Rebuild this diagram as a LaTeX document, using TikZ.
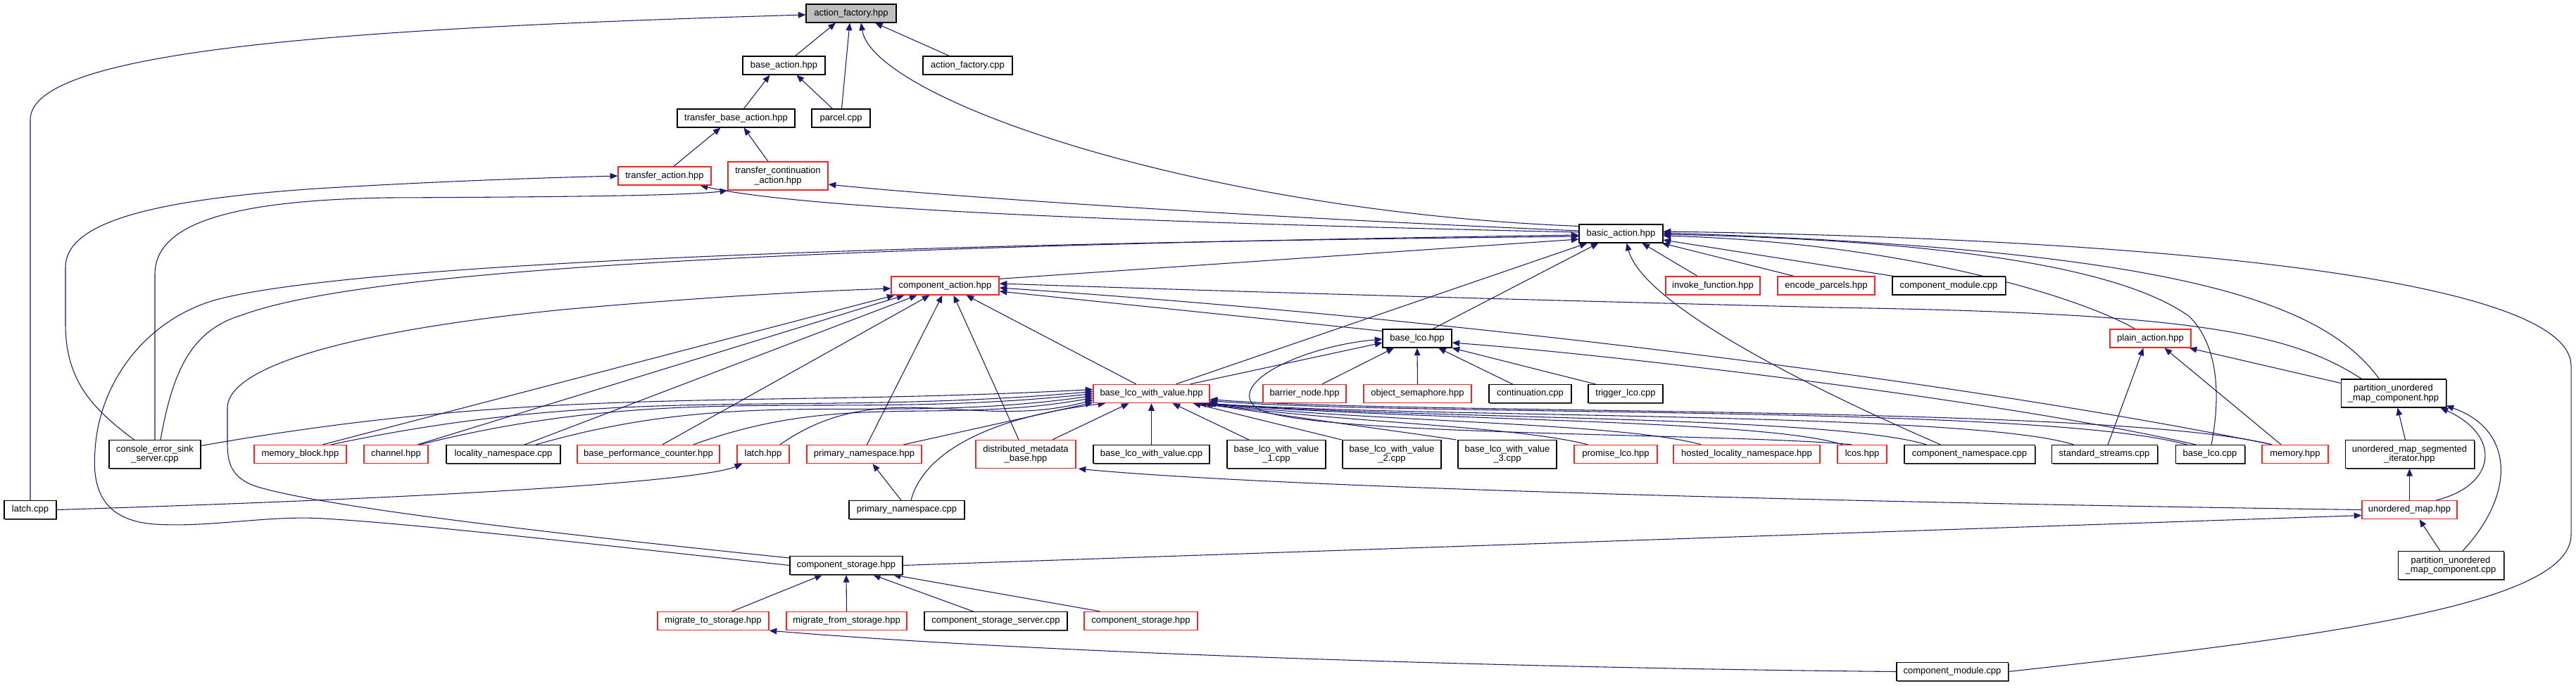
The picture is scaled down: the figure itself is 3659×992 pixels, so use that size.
\documentclass[tikz,border=0pt]{standalone}
\usepackage{fontspec}
\setmainfont{Liberation Sans}
\usetikzlibrary{arrows.meta,calc,shadows}
\pgfdeclarelayer{bg}
\pgfsetlayers{bg,main}
\definecolor{eblue}{HTML}{191970}
\definecolor{rbord}{HTML}{FF2020}
\definecolor{rootgray}{HTML}{BFBFBF}
\definecolor{shgray}{HTML}{505050}
\newcommand\nodefnt{\fontsize{9.75}{10}\selectfont}
\begin{document}
\begin{tikzpicture}[x=0.75pt,y=-0.75pt,
  base/.style={line width=0.8pt, fill=white, inner sep=0pt, minimum height=19.5pt, font=\nodefnt, align=center},
  bx/.style={base, draw=black, drop shadow={shadow xshift=1.1pt, shadow yshift=-1.1pt, fill=shgray, opacity=1}},
  rbx/.style={base, draw=rbord, line width=1pt},
  two/.style={minimum height=30pt},
  wd/.style={minimum width=#1*0.75pt},
  lnk/.style={draw=eblue, line width=0.8pt, -{Triangle[length=8pt,width=6.5pt]}},
]
\useasboundingbox (0,0) rectangle (3659,992);

% ---------- nodes ----------
\node[bx, fill=rootgray, wd=128] (af) at (1209,19) {action\_factory.hpp};
\node[bx, wd=117] (ba) at (1113.5,93) {base\_action.hpp};
\node[bx, wd=127] (afc) at (1374.5,93) {action\_factory.cpp};
\node[bx, wd=167] (tba) at (1045.5,168) {transfer\_base\_action.hpp};
\node[bx, wd=83] (pc) at (1194.5,168) {parcel.cpp};
\node[rbx, wd=132] (ta) at (944,250) {transfer\_action.hpp};
\node[rbx, two, wd=142] (tca) at (1105,250) {transfer\_continuation\\\_action.hpp};
\node[bx, wd=119] (bca) at (2302.5,332) {basic\_action.hpp};
\node[rbx, wd=153] (ca) at (1342.5,406) {component\_action.hpp};
\node[rbx, wd=134] (ifn) at (2433,406) {invoke\_function.hpp};
\node[rbx, wd=138] (ep) at (2594,406) {encode\_parcels.hpp};
\node[bx, wd=160] (cm1) at (2768,406) {component\_module.cpp};
\node[bx, wd=98] (bl) at (2013,481) {base\_lco.hpp};
\node[rbx, wd=115] (pa) at (3054.5,481) {plain\_action.hpp};
\node[rbx, wd=165] (blv) at (1635.5,559.5) {base\_lco\_with\_value.hpp};
\node[rbx, wd=118] (bn) at (1853,559.5) {barrier\_node.hpp};
\node[rbx, wd=153] (os) at (2013.5,559.5) {object\_semaphore.hpp};
\node[bx, wd=117] (cont) at (2173.5,559.5) {continuation.cpp};
\node[bx, wd=106] (tl) at (2309,559.5) {trigger\_lco.cpp};
\node[bx, two, wd=149] (pumc) at (3399.5,559) {partition\_unordered\\\_map\_component.hpp};
\node[bx, two, wd=130] (cess) at (220,645.5) {console\_error\_sink\\\_server.cpp};
\node[rbx, wd=131] (mb) at (426.5,645.5) {memory\_block.hpp};
\node[rbx, wd=91] (ch) at (562.5,645.5) {channel.hpp};
\node[bx, wd=162] (ln) at (715,645.5) {locality\_namespace.cpp};
\node[rbx, wd=202] (bpc) at (921,645.5) {base\_performance\_counter.hpp};
\node[rbx, wd=74] (lh) at (1084,645.5) {latch.hpp};
\node[rbx, wd=163] (pn) at (1227.5,645.5) {primary\_namespace.hpp};
\node[rbx, two, wd=142] (dmb) at (1457,645.5) {distributed\_metadata\\\_base.hpp};
\node[bx, wd=165] (blvc) at (1635.5,645.5) {base\_lco\_with\_value.cpp};
\node[bx, two, wd=140] (blv1) at (1813,645.5) {base\_lco\_with\_value\\\_1.cpp};
\node[bx, two, wd=140] (blv2) at (1977,645.5) {base\_lco\_with\_value\\\_2.cpp};
\node[bx, two, wd=140] (blv3) at (2141,645.5) {base\_lco\_with\_value\\\_3.cpp};
\node[rbx, wd=118] (pl) at (2295,645.5) {promise\_lco.hpp};
\node[rbx, wd=208] (hln) at (2481,645.5) {hosted\_locality\_namespace.hpp};
\node[rbx, wd=70] (lcos) at (2645,645.5) {lcos.hpp};
\node[bx, wd=185] (cn) at (2797.5,645.5) {component\_namespace.cpp};
\node[bx, wd=150] (ss) at (2989,645.5) {standard\_streams.cpp};
\node[bx, wd=98] (blc) at (3139,645.5) {base\_lco.cpp};
\node[rbx, wd=94] (mem) at (3260,645.5) {memory.hpp};
\node[bx, two, wd=183] (umsi) at (3422.5,645.5) {unordered\_map\_segmented\\\_iterator.hpp};
\node[bx, wd=74] (lc) at (43,724.5) {latch.cpp};
\node[bx, wd=164] (pnc) at (1288,724.5) {primary\_namespace.cpp};
\node[rbx, wd=135] (um) at (3422.5,724.5) {unordered\_map.hpp};
\node[bx, wd=160] (cs) at (1202,803.5) {component\_storage.hpp};
\node[bx, two, wd=150] (pumcc) at (3481,803.5) {partition\_unordered\\\_map\_component.cpp};
\node[rbx, wd=158] (mts) at (1013,882.5) {migrate\_to\_storage.hpp};
\node[rbx, wd=171] (mfs) at (1202.5,882.5) {migrate\_from\_storage.hpp};
\node[bx, wd=203] (css) at (1414.5,882.5) {component\_storage\_server.cpp};
\node[rbx, wd=161] (cs2) at (1620.5,882.5) {component\_storage.hpp};
\node[bx, wd=158] (cm2) at (2773,954.5) {component\_module.cpp};

% ---------- connectors ----------
\begin{pgfonlayer}{bg}
% into action_factory.hpp
\draw[lnk] ($(ba.north)+(16,0)$) -- ($(af.south)+(-22,0)$);
\draw[lnk] ($(pc.north)+(1,0)$) -- ($(af.south)+(-2,0)$);
\draw[lnk] ($(afc.north)+(-26,0)$) -- ($(af.south)+(34,0)$);
\draw[lnk] ($(bca.north west)+(0,3)$) .. controls (1700,300) and (1240,140) .. ($(af.south)+(14,0)$);
\draw[lnk] (lc.north) -- (43,170) .. controls (43,70) and (500,40) .. ($(af.west)+(0,2)$);
% into base_action.hpp
\draw[lnk] ($(tba.north)+(11,0)$) -- ($(ba.south)+(-20,0)$);
\draw[lnk] ($(pc.north)+(-12,0)$) -- ($(ba.south)+(18,0)$);
% into transfer_base_action.hpp
\draw[lnk] ($(ta.north)+(13,0)$) -- ($(tba.south)+(-22,0)$);
\draw[lnk] ($(tca.north)+(-14,0)$) -- ($(tba.south)+(11,0)$);
% into transfer_action.hpp
\draw[lnk] ($(cess.north west)+(36,0)$) .. controls (130,580) and (93,540) .. (93,460) -- (93,380) .. controls (93,320) and (200,285) .. (450,268) .. controls (650,256) and (800,252) .. (ta.west);
\draw[lnk] ($(bca.west)+(0,-2)$) .. controls (1700,318) and (1150,300) .. ($(ta.south east)+(-16,0)$);
% into transfer_continuation_action.hpp
\draw[lnk] (cess.north) -- (220,390) .. controls (220,320) and (320,285) .. (550,281) .. controls (800,280) and (980,278) .. (tca.south west);
\draw[lnk] ($(bca.west)+(0,-4)$) .. controls (1700,305) and (1300,275) .. ($(tca.east)+(0,12)$);
% into basic_action.hpp
\draw[lnk] ($(cess.north)+(8,0)$) .. controls (245,530) and (270,470) .. (343,448) .. controls (500,390) and (1000,352) .. ($(bca.west)+(0,2)$);
\draw[lnk] (cs.west) .. controls (900,780) and (600,745) .. (460,737) .. controls (380,732) and (300,750) .. (220,745) .. controls (150,740) and (130,700) .. (135,640) .. controls (140,550) and (200,460) .. (300,428) .. controls (420,392) and (900,350) .. ($(bca.west)+(0,4)$);
\draw[lnk] ($(ca.north east)+(0,4)$) -- ($(bca.west)+(0,8)$);
\draw[lnk] ($(blv.north)+(35,0)$) -- ($(bca.south west)+(12,0)$);
\draw[lnk] ($(bl.north)+(22,0)$) -- ($(bca.south west)+(28,0)$);
\draw[lnk] ($(cn.north west)+(52,0)$) .. controls (2500,520) and (2330,420) .. ($(bca.south)+(8,0)$);
\draw[lnk] ($(ifn.north)+(-22,0)$) -- ($(bca.south)+(30,0)$);
\draw[lnk] ($(ep.north)+(-46,0)$) -- ($(bca.south east)+(-2,0)$);
\draw[lnk] ($(cm1.north west)+(2,0)$) -- ($(bca.east)+(0,9)$);
\draw[lnk] ($(pa.north)+(-22,0)$) .. controls (2950,420) and (2700,345) .. ($(bca.east)+(0,3)$);
\draw[lnk] ($(blc.north)+(2,0)$) .. controls (3155,560) and (3150,490) .. (3110,450) .. controls (3000,370) and (2700,340) .. ($(bca.east)+(0,1)$);
\draw[lnk] ($(pumc.north)+(-20,0)$) .. controls (3300,430) and (3100,355) .. ($(bca.east)+(0,-1)$);
\draw[lnk] (cm2.east) .. controls (3300,905) and (3652,860) .. (3652,760) -- (3652,520) .. controls (3652,400) and (3100,340) .. ($(bca.east)+(0,-3)$);
% into component_action.hpp
\draw[lnk] ($(cs.north west)+(0,3)$) .. controls (800,760) and (450,720) .. (360,690) .. controls (330,678) and (323,660) .. (323,630) -- (323,580) .. controls (323,520) and (500,470) .. (800,440) .. controls (1000,422) and (1150,414) .. ($(ca.west)+(0,4)$);
\draw[lnk] ($(mb.north)+(32,0)$) -- ($(ca.south)+(-72,0)$);
\draw[lnk] ($(ch.north)+(31,0)$) -- ($(ca.south)+(-58,0)$);
\draw[lnk] ($(ln.north)+(30,0)$) -- ($(ca.south)+(-40,0)$);
\draw[lnk] ($(bpc.north)+(20,0)$) -- ($(ca.south)+(-22,0)$);
\draw[lnk] ($(pn.north)+(4,0)$) -- ($(ca.south)+(-4,0)$);
\draw[lnk] ($(dmb.north)+(-10,0)$) -- ($(ca.south)+(12,0)$);
\draw[lnk] ($(blv.north)+(-22,0)$) -- ($(ca.south)+(30,0)$);
\draw[lnk] ($(bl.north west)+(0,3)$) -- ($(ca.east)+(0,8)$);
\draw[lnk] ($(mem.north west)+(15,0)$) .. controls (2800,545) and (2100,455) .. ($(ca.east)+(0,3)$);
\draw[lnk] ($(pumc.north west)+(30,0)$) .. controls (3250,470) and (3100,445) .. (2600,437) .. controls (2200,427) and (1800,416) .. ($(ca.east)+(0,-3)$);
% into base_lco.hpp
\draw[lnk] ($(blv.north east)+(-28,0)$) -- ($(bl.west)+(0,6)$);
\draw[lnk] ($(bn.north)+(25,0)$) -- ($(bl.south)+(-33,0)$);
\draw[lnk] (os.north) -- (bl.south);
\draw[lnk] ($(cont.north)+(-25,0)$) -- ($(bl.south)+(30,0)$);
\draw[lnk] ($(tl.north west)+(11,0)$) -- (bl.south east);
\draw[lnk] ($(lcos.north)+(-15,0)$) .. controls (2450,615) and (1850,620) .. (1785,580) .. controls (1740,545) and (1850,492) .. ($(bl.west)+(0,1)$);
\draw[lnk] ($(blc.north)+(-20,0)$) .. controls (2850,570) and (2300,505) .. ($(bl.east)+(0,6)$);
% into plain_action.hpp
\draw[lnk] ($(ss.north)+(5,0)$) -- ($(pa.south)+(-10,0)$);
\draw[lnk] ($(mem.north)+(-20,0)$) -- ($(pa.south)+(20,0)$);
\draw[lnk] ($(pumc.north west)+(0,6)$) -- ($(pa.south east)+(-3,0)$);
% into base_lco_with_value.hpp from the left
\draw[lnk] ($(cess.east)+(0,-12)$) to[out=10,in=183] ($(blv.west)+(0,-6)$);
\draw[lnk] ($(mb.north)+(44,0)$) to[out=12,in=185] ($(blv.west)+(0,-3)$);
\draw[lnk] ($(ch.north)+(34,0)$) to[out=14,in=186] (blv.west);
\draw[lnk] ($(ln.north)+(46,0)$) to[out=16,in=188] ($(blv.west)+(0,3)$);
\draw[lnk] ($(bpc.north)+(64,0)$) to[out=20,in=190] ($(blv.west)+(0,6)$);
\draw[lnk] ($(lh.north)+(24,0)$) to[out=35,in=195] ($(blv.west)+(0,9)$);
\draw[lnk] ($(pn.north)+(56,0)$) -- ($(blv.south west)+(0,-1)$);
% into base_lco_with_value.hpp from below
\draw[lnk] ($(pnc.north)+(6,0)$) .. controls (1310,650) and (1390,595) .. ($(blv.south west)+(18,0)$);
\draw[lnk] ($(dmb.north)+(38,0)$) -- ($(blv.south)+(-32,0)$);
\draw[lnk] (blvc.north) -- (blv.south);
\draw[lnk] ($(blv1.north)+(-39,0)$) -- ($(blv.south)+(30,0)$);
\draw[lnk] ($(blv2.north west)+(-1,0)$) -- ($(blv.south east)+(-24,0)$);
\draw[lnk] ($(blv3.north west)+(-2,0)$) -- ($(blv.south east)+(-16,0)$);
% into base_lco_with_value.hpp from the right
\draw[lnk] ($(pl.north west)+(20,0)$) .. controls (2150,605) and (1900,600) .. ($(blv.south east)+(-10,0)$);
\draw[lnk] ($(hln.north west)+(40,0)$) .. controls (2300,600) and (1950,600) .. ($(blv.south east)+(-8,0)$);
\draw[lnk] ($(lcos.north west)+(8,0)$) .. controls (2500,595) and (2000,598) .. ($(blv.south east)+(-6,0)$);
\draw[lnk] ($(cn.north west)+(32,0)$) .. controls (2600,590) and (2000,596) .. ($(blv.south east)+(-4,0)$);
\draw[lnk] ($(ss.north west)+(32,0)$) .. controls (2800,585) and (2000,594) .. ($(blv.south east)+(-2,0)$);
\draw[lnk] ($(blc.north west)+(17,0)$) .. controls (2900,575) and (2000,592) .. ($(blv.east)+(0,10)$);
\draw[lnk] ($(mem.north west)+(14,0)$) .. controls (3000,575) and (2000,590) .. ($(blv.east)+(0,8)$);
% lower part
\draw[lnk] (lc.east) .. controls (700,705) and (1000,682) .. ($(lh.south west)+(8,0)$);
\draw[lnk] ($(pnc.north)+(-8,0)$) -- ($(pn.south)+(12,0)$);
\draw[lnk] (um.west) .. controls (2600,714) and (1800,692) .. ($(dmb.south east)+(3,0)$);
\draw[lnk] (cs.east) -- ($(um.west)+(0,8)$);
\draw[lnk] ($(mts.north)+(27,0)$) -- ($(cs.south)+(-34,0)$);
\draw[lnk] (mfs.north) -- (cs.south);
\draw[lnk] ($(css.north)+(-32,0)$) -- ($(cs.south)+(38,0)$);
\draw[lnk] ($(cs2.north west)+(23,0)$) -- ($(cs.south east)+(-14,0)$);
\draw[lnk] (cm2.west) .. controls (2200,950) and (1500,930) .. (mts.south east);
\draw[lnk] ($(umsi.north)+(-6,0)$) -- ($(pumc.south)+(6,0)$);
\draw[lnk] ($(um.north east)+(-30,0)$) .. controls (3545,690) and (3555,620) .. ($(pumc.south east)+(-8,0)$);
\draw[lnk] ($(pumcc.north)+(17,0)$) .. controls (3575,700) and (3570,610) .. ($(pumc.south east)+(0,-3)$);
\draw[lnk] (um.north) -- (umsi.south);
\draw[lnk] ($(pumcc.north)+(-15,0)$) -- ($(um.south)+(14,0)$);
\end{pgfonlayer}
\end{tikzpicture}
\end{document}
